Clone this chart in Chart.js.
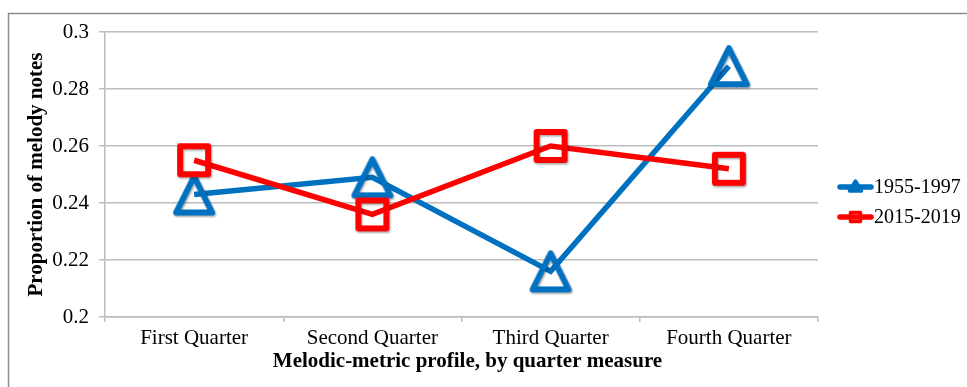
<!DOCTYPE html>
<html>
<head>
<meta charset="utf-8">
<script src="https://cdn.jsdelivr.net/npm/chart.js@4.4.1/dist/chart.umd.min.js"></script>
<style>
  html, body { margin: 0; padding: 0; background: #ffffff; }
  #wrap { position: relative; width: 967px; height: 387px; }
  canvas { display: block; }
</style>
</head>
<body>
<div id="wrap"><canvas id="chart" width="967" height="387"></canvas></div>
<script>
// Categories along the x axis
const quarters = ['First Quarter', 'Second Quarter', 'Third Quarter', 'Fourth Quarter'];

// Proportion of melody notes falling in each quarter of the measure
const series1955to1997 = [0.243, 0.249, 0.216, 0.288];
const series2015to2019 = [0.255, 0.236, 0.260, 0.252];

// Y axis range and tick labels
const yMin = 0.2;
const yMax = 0.3;
const yStep = 0.02;
const yTickLabels = ['0.2', '0.22', '0.24', '0.26', '0.28', '0.3'];

const seriesNames = ['1955-1997', '2015-2019'];
const BLUE = '#0070C0';
const RED = '#FF0000';
const SERIF = "'Liberation Serif', 'Times New Roman', serif";
const GRID = '#bcbcbc';
const FONT_SIZE = 21;

// Hollow marker images with a soft drop shadow
function makeTriangle(color, size, inset, lw) {
  const c = document.createElement('canvas');
  c.width = size; c.height = size;
  const g = c.getContext('2d');
  g.shadowColor = 'rgba(0,0,0,0.35)';
  g.shadowBlur = 2; g.shadowOffsetX = 1; g.shadowOffsetY = 1.5;
  g.strokeStyle = color; g.lineWidth = lw; g.lineJoin = 'round';
  g.beginPath();
  g.moveTo(size / 2, inset);
  g.lineTo(size - inset, size - inset);
  g.lineTo(inset, size - inset);
  g.closePath();
  g.stroke();
  return c;
}
function makeSquare(color, size, inset, lw) {
  const c = document.createElement('canvas');
  c.width = size; c.height = size;
  const g = c.getContext('2d');
  g.shadowColor = 'rgba(0,0,0,0.35)';
  g.shadowBlur = 2; g.shadowOffsetX = 1; g.shadowOffsetY = 1.5;
  g.strokeStyle = color; g.lineWidth = lw; g.lineJoin = 'round';
  g.strokeRect(inset, inset, size - 2 * inset, size - 2 * inset);
  return c;
}
const triMarker = makeTriangle(BLUE, 48, 6, 6);
const sqMarker = makeSquare(RED, 40, 6, 6);

// Outer frame, axis titles and the legend with line-and-marker keys
const decorations = {
  id: 'decorations',
  beforeDraw(chart) {
    const ctx = chart.ctx;
    ctx.save();
    ctx.fillStyle = '#ffffff';
    ctx.fillRect(0, 0, chart.width, chart.height);
    ctx.strokeStyle = '#8c8c8c';
    ctx.lineWidth = 1.5;
    ctx.beginPath();
    ctx.moveTo(8.5, chart.height);
    ctx.lineTo(8.5, 13.5);
    ctx.lineTo(chart.width, 13.5);
    ctx.stroke();
    ctx.restore();
  },
  afterDraw(chart) {
    const ctx = chart.ctx;
    const area = chart.chartArea;
    ctx.save();
    ctx.fillStyle = '#000000';
    ctx.font = 'bold ' + FONT_SIZE + 'px ' + SERIF;
    ctx.textAlign = 'center';
    ctx.textBaseline = 'middle';
    ctx.fillText('Melodic-metric profile, by quarter measure', (area.left + area.right) / 2 + 6, 362);
    ctx.save();
    ctx.translate(37, (area.top + area.bottom) / 2);
    ctx.rotate(-Math.PI / 2);
    ctx.fillText('Proportion of melody notes', 0, 0);
    ctx.restore();

    // Legend
    const rows = [
      { name: seriesNames[0], color: BLUE, y: 187, kind: 'tri' },
      { name: seriesNames[1], color: RED, y: 217, kind: 'sq' }
    ];
    rows.forEach(r => {
      ctx.strokeStyle = r.color;
      ctx.lineWidth = 5.5;
      ctx.lineCap = 'round';
      ctx.beginPath();
      ctx.moveTo(840, r.y);
      ctx.lineTo(871, r.y);
      ctx.stroke();
      ctx.lineWidth = 3.5;
      ctx.lineJoin = 'round';
      ctx.beginPath();
      if (r.kind === 'tri') {
        ctx.moveTo(855.5, r.y - 6);
        ctx.lineTo(861.5, r.y + 4);
        ctx.lineTo(849.5, r.y + 4);
        ctx.closePath();
        ctx.fillStyle = r.color;
        ctx.fill();
      } else {
        ctx.rect(850.5, r.y - 4.5, 10, 9);
      }
      ctx.stroke();
      ctx.fillStyle = '#000000';
      ctx.font = '20px ' + SERIF;
      ctx.textAlign = 'left';
      ctx.textBaseline = 'middle';
      ctx.fillText(r.name, 874, r.y + 1);
    });
    ctx.restore();
  }
};

new Chart(document.getElementById('chart'), {
  type: 'line',
  data: {
    labels: quarters,
    datasets: [
      {
        label: seriesNames[0],
        data: series1955to1997,
        borderColor: BLUE,
        borderWidth: 5.5,
        pointStyle: triMarker,
        pointRadius: 20,
        pointHoverRadius: 20,
        order: 1,
        tension: 0
      },
      {
        label: seriesNames[1],
        data: series2015to2019,
        borderColor: RED,
        borderWidth: 5.5,
        pointStyle: sqMarker,
        pointRadius: 16,
        pointHoverRadius: 16,
        order: 0,
        tension: 0
      }
    ]
  },
  options: {
    responsive: false,
    animation: false,
    events: [],
    layout: { padding: { left: 0, top: 32, right: 149, bottom: 0 } },
    plugins: {
      legend: { display: false },
      tooltip: { enabled: false }
    },
    scales: {
      x: {
        type: 'category',
        offset: true,
        afterFit(scale) { scale.height = 70; },
        grid: {
          offset: true,
          drawOnChartArea: false,
          drawTicks: true,
          tickLength: 5,
          color: GRID,
          lineWidth: 1.5
        },
        border: { display: true, color: GRID, width: 1.5 },
        ticks: {
          color: '#000000',
          padding: 4,
          maxRotation: 0,
          font: { family: SERIF, size: FONT_SIZE }
        }
      },
      y: {
        min: yMin,
        max: yMax,
        afterFit(scale) { scale.width = 105; },
        grid: {
          color: GRID,
          lineWidth: 1.5,
          drawTicks: true,
          tickLength: 6
        },
        border: { display: true, color: GRID, width: 1.5 },
        ticks: {
          stepSize: yStep,
          color: '#000000',
          padding: 10,
          font: { family: SERIF, size: FONT_SIZE },
          callback(value) {
            const i = Math.round((value - yMin) / yStep);
            return yTickLabels[i];
          }
        }
      }
    }
  },
  plugins: [decorations]
});
</script>
</body>
</html>
